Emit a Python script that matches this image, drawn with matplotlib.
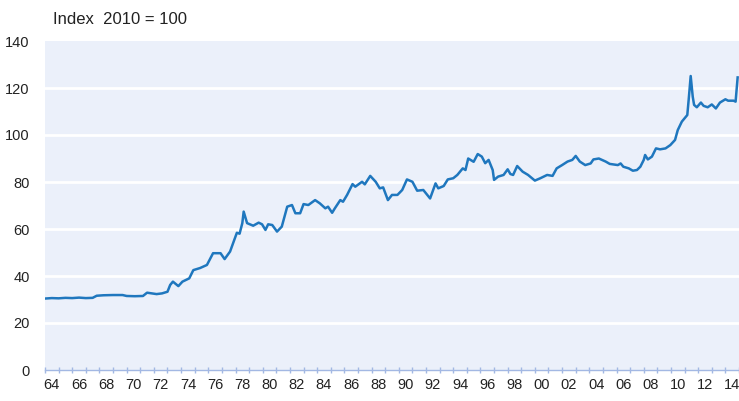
import matplotlib
matplotlib.use("Agg")
import matplotlib.pyplot as plt
from matplotlib.ticker import FixedLocator, FixedFormatter

# values (index, 2010 = 100)
years = [1964.0, 1964.5, 1965.0, 1965.5, 1966.0, 1966.5, 1967.0, 1967.5, 1967.8, 1968.3,
         1969.0, 1969.7, 1970.0, 1970.6, 1971.2, 1971.5, 1972.2, 1972.6, 1973.0, 1973.2,
         1973.4, 1973.8, 1974.1, 1974.6, 1974.9, 1975.4, 1975.9, 1976.35, 1976.9, 1977.2,
         1977.6, 1978.1, 1978.3, 1978.5, 1978.6, 1978.85, 1979.3, 1979.7, 1979.95, 1980.2,
         1980.4, 1980.7, 1981.05, 1981.4, 1981.8, 1982.15, 1982.4, 1982.75, 1983.0, 1983.35,
         1983.85, 1984.2, 1984.6, 1984.8, 1985.1, 1985.3, 1985.7, 1985.9, 1986.2, 1986.6,
         1986.8, 1987.3, 1987.5, 1987.9, 1988.3, 1988.6, 1988.85, 1989.2, 1989.5, 1989.9,
         1990.25, 1990.6, 1991.0, 1991.35, 1991.8, 1992.3, 1992.7, 1992.9, 1993.3, 1993.6,
         1994.0, 1994.3, 1994.7, 1994.9, 1995.1, 1995.5, 1995.8, 1996.1, 1996.35, 1996.6,
         1996.9, 1997.0, 1997.3, 1997.7, 1998.0, 1998.2, 1998.4, 1998.7, 1999.1, 1999.5,
         2000.0, 2000.4, 2000.9, 2001.3, 2001.6, 2002.0, 2002.4, 2002.75, 2003.0, 2003.3,
         2003.7, 2004.1, 2004.3, 2004.7, 2005.2, 2005.5, 2006.1, 2006.3, 2006.5, 2006.9,
         2007.2, 2007.5, 2007.75, 2008.0, 2008.1, 2008.3, 2008.6, 2008.9, 2009.2, 2009.6,
         2009.95, 2010.3, 2010.5, 2010.8, 2011.0, 2011.2, 2011.3, 2011.45, 2011.6, 2011.7,
         2011.9, 2012.2, 2012.4, 2012.7, 2013.0, 2013.3, 2013.6, 2014.0, 2014.2, 2014.6,
         2014.75, 2014.9]
index = [30.4, 30.6, 30.5, 30.7, 30.6, 30.8, 30.6, 30.7, 31.6, 31.8,
         31.9, 31.9, 31.5, 31.4, 31.5, 32.9, 32.3, 32.6, 33.3, 36.2,
         37.6, 35.7, 37.6, 39.0, 42.5, 43.4, 44.7, 49.7, 49.7, 47.2,
         50.4, 58.4, 58.0, 62.5, 67.4, 62.5, 61.4, 62.7, 62.0, 59.6,
         62.0, 61.7, 58.9, 61.0, 69.5, 70.2, 66.7, 66.7, 70.6, 70.2,
         72.3, 70.9, 68.8, 69.5, 66.9, 68.8, 72.3, 71.6, 74.5, 79.1,
         78.0, 80.1, 79.0, 82.6, 80.1, 77.3, 77.7, 72.3, 74.5, 74.5,
         76.6, 81.1, 80.1, 76.3, 76.6, 73.0, 79.4, 77.3, 78.3, 81.1,
         81.6, 83.0, 85.8, 85.1, 90.0, 88.6, 91.9, 90.8, 88.0, 89.4,
         85.1, 80.9, 82.3, 83.0, 85.4, 83.4, 83.0, 86.8, 84.4, 83.0,
         80.6, 81.6, 83.0, 82.6, 85.8, 87.2, 88.7, 89.4, 91.1, 88.7,
         87.2, 87.9, 89.6, 90.0, 88.7, 87.7, 87.2, 87.9, 86.5, 85.8,
         84.8, 85.1, 86.5, 89.4, 91.5, 89.6, 90.8, 94.3, 93.9, 94.3,
         95.7, 97.9, 102.1, 105.7, 107.1, 108.5, 114.9, 125.1, 116.3, 112.8,
         111.8, 113.8, 112.4, 111.8, 113.0, 111.3, 113.8, 115.2, 114.6, 114.6,
         114.2, 124.5]

y_ticks = [0, 20, 40, 60, 80, 100, 120, 140]
label_years = list(range(1964, 2015, 2))
x_labels = ["%02d" % (y % 100) for y in label_years]

plt.rcParams["font.family"] = ["Liberation Sans", "DejaVu Sans"]

fig = plt.figure(figsize=(7.39, 4.01), dpi=100)
ax = fig.add_axes([45 / 739, 31 / 401, 694 / 739, 329 / 401])
ax.set_facecolor("#EBF0FA")

ax.plot(years, index, color="#1F77BE", lw=1.8, solid_joinstyle="round")

ax.set_xlim(1964, 2015)
ax.set_ylim(0, 140)
ax.set_yticks(y_ticks)
ax.set_yticklabels([str(v) for v in y_ticks])
for v in y_ticks[1:-1]:
    ax.axhline(v, color="white", lw=2, zorder=1)

# year ticks on the boundaries, labels centred in each year
ax.xaxis.set_major_locator(FixedLocator([y + 0.5 for y in label_years]))
ax.xaxis.set_major_formatter(FixedFormatter(x_labels))
ax.xaxis.set_minor_locator(FixedLocator(list(range(1964, 2016))))
ax.tick_params(axis="x", which="major", length=0, pad=6, labelsize=10.5, colors="#222222")
ax.tick_params(axis="x", which="minor", length=5, width=1, color="#A3B8E3", direction="inout")
ax.tick_params(axis="y", length=0, pad=11, labelsize=10.5, colors="#222222")

for s in ["top", "right", "left"]:
    ax.spines[s].set_visible(False)
ax.spines["bottom"].set_color("#A3B8E3")
ax.spines["bottom"].set_linewidth(1)

fig.text(53 / 739, 1 - 19 / 401, "Index  2010 = 100", fontsize=12, va="center", ha="left", color="#222222")

fig.savefig("out.png", dpi=100)
